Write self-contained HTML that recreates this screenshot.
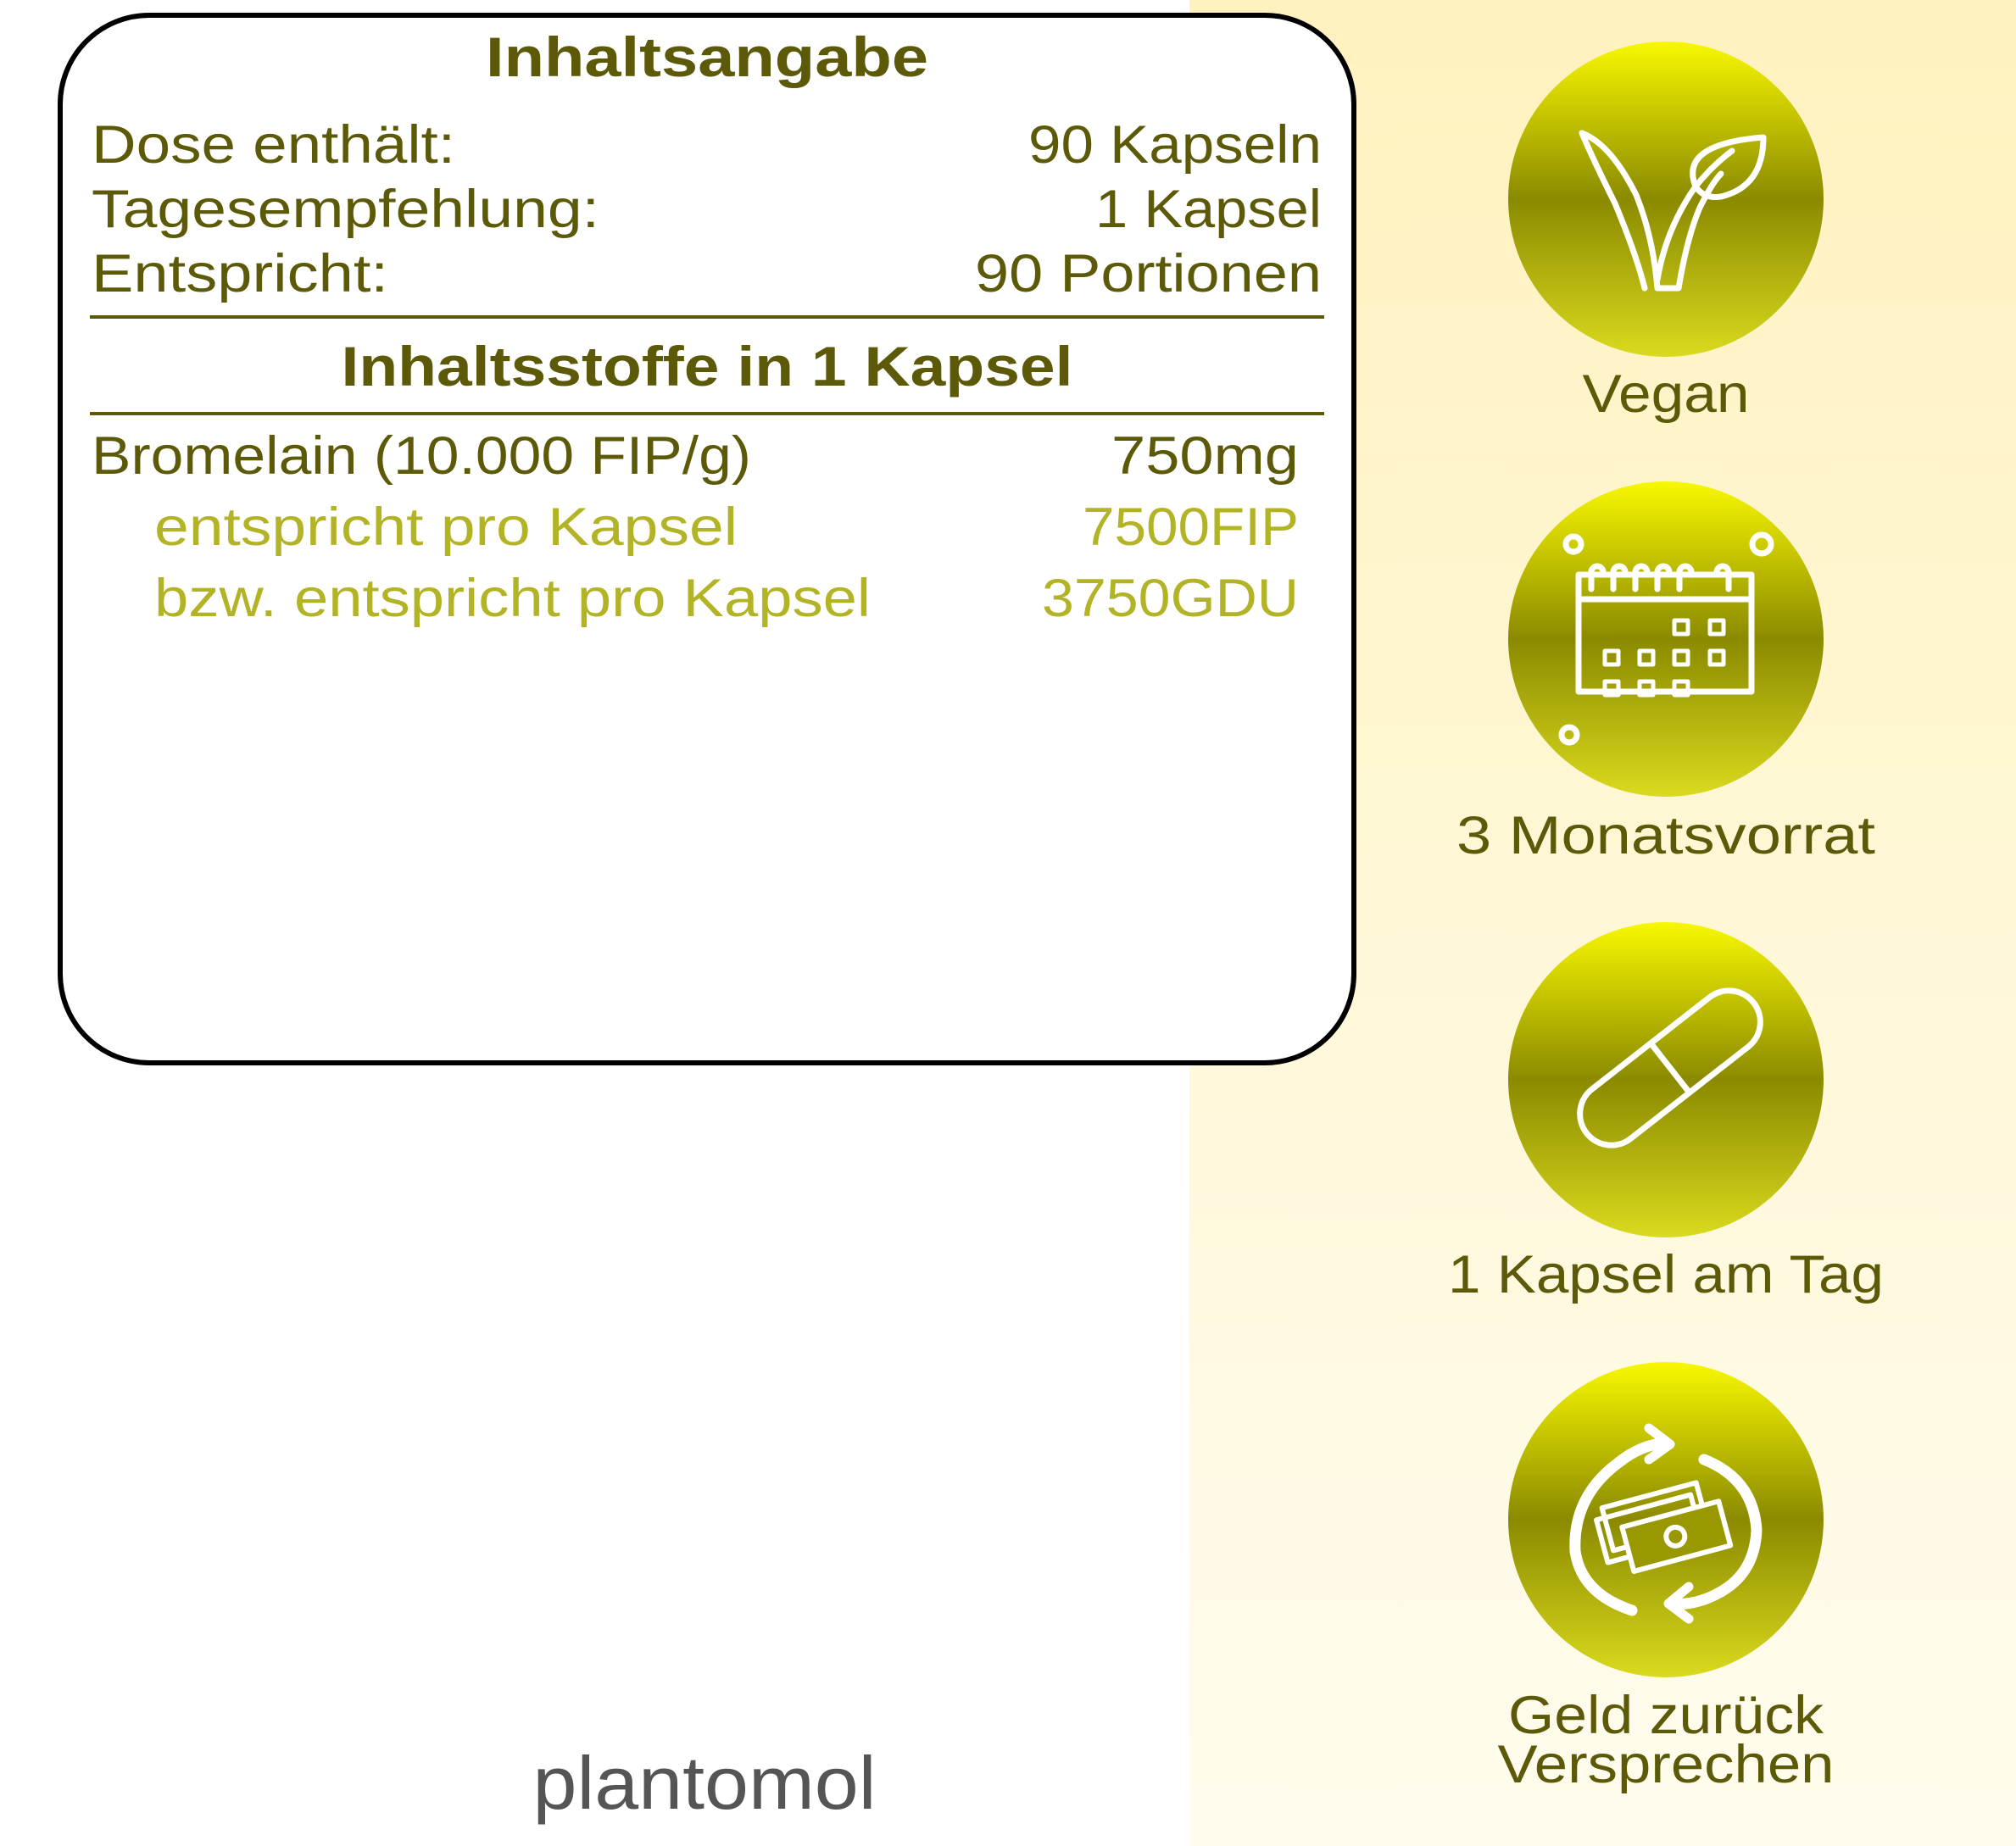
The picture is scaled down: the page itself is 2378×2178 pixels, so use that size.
<!DOCTYPE html>
<html><head><meta charset="utf-8"><style>
html,body{margin:0;padding:0;width:2378px;height:2178px;overflow:hidden;background:#fff}
svg{display:block}
text{font-family:"Liberation Sans",sans-serif}
</style></head><body>
<svg width="2378" height="2178" viewBox="0 0 2378 2178" xmlns="http://www.w3.org/2000/svg">
<defs>
<linearGradient id="bg" x1="0" y1="0" x2="0" y2="1">
<stop offset="0" stop-color="#fff2bf"/><stop offset="1" stop-color="#fffcee"/></linearGradient>
<linearGradient id="cg" x1="0" y1="0" x2="0" y2="1">
<stop offset="0" stop-color="#f8f800"/><stop offset="0.5" stop-color="#8b8a00"/><stop offset="1" stop-color="#dada1e"/></linearGradient>
</defs>
<rect x="1403" y="0" width="975" height="2178" fill="url(#bg)"/>
<rect x="71" y="18" width="1526" height="1236" rx="105" fill="#fff" stroke="#000" stroke-width="6"/>
<g fill="#5c5a08">
<text x="834" y="90" font-size="66" font-weight="bold" text-anchor="middle" textLength="522" lengthAdjust="spacingAndGlyphs">Inhaltsangabe</text>
<text x="108" y="192" font-size="63" textLength="429" lengthAdjust="spacingAndGlyphs">Dose enthält:</text>
<text x="1559" y="192" font-size="63" text-anchor="end" textLength="346" lengthAdjust="spacingAndGlyphs">90 Kapseln</text>
<text x="108" y="268" font-size="63" textLength="599" lengthAdjust="spacingAndGlyphs">Tagesempfehlung:</text>
<text x="1559" y="268" font-size="63" text-anchor="end" textLength="267" lengthAdjust="spacingAndGlyphs">1 Kapsel</text>
<text x="108" y="344" font-size="63" textLength="350" lengthAdjust="spacingAndGlyphs">Entspricht:</text>
<text x="1559" y="344" font-size="63" text-anchor="end" textLength="409" lengthAdjust="spacingAndGlyphs">90 Portionen</text>
<text x="834" y="455" font-size="66" font-weight="bold" text-anchor="middle" textLength="863" lengthAdjust="spacingAndGlyphs">Inhaltsstoffe in 1 Kapsel</text>
<text x="108" y="559" font-size="63" textLength="778" lengthAdjust="spacingAndGlyphs">Bromelain (10.000 FIP/g)</text>
<text x="1532" y="559" font-size="63" text-anchor="end" textLength="221" lengthAdjust="spacingAndGlyphs">750mg</text>
</g>
<rect x="106" y="372" width="1456" height="4" fill="#5c5a08"/>
<rect x="106" y="486" width="1456" height="4" fill="#5c5a08"/>
<g fill="#b3b326" font-size="63">
<text x="182" y="643" textLength="688" lengthAdjust="spacingAndGlyphs">entspricht pro Kapsel</text>
<text x="1532" y="643" text-anchor="end" textLength="255" lengthAdjust="spacingAndGlyphs">7500FIP</text>
<text x="182" y="727" textLength="845" lengthAdjust="spacingAndGlyphs">bzw. entspricht pro Kapsel</text>
<text x="1532" y="727" text-anchor="end" textLength="303" lengthAdjust="spacingAndGlyphs">3750GDU</text>
</g>
<text x="831" y="2134" font-size="88" fill="#555" text-anchor="middle" textLength="405" lengthAdjust="spacingAndGlyphs">plantomol</text>

<g>
<circle cx="1965" cy="235" r="186" fill="url(#cg)"/>
<circle cx="1965" cy="754" r="186" fill="url(#cg)"/>
<circle cx="1965" cy="1274" r="186" fill="url(#cg)"/>
<circle cx="1965" cy="1793" r="186" fill="url(#cg)"/>
</g>
<g fill="none" stroke="#fff" stroke-width="7" stroke-linecap="round" stroke-linejoin="round">
<path d="M1866 157 Q1900 170 1930 230 Q1950 280 1955 340 L1980 340 Q1990 280 2005 245 Q2020 215 2030 205"/>
<path d="M1866 157 Q1880 190 1905 240 Q1930 300 1940 340"/>
<path d="M1955 330 Q1965 270 2000 220"/>
<path d="M2000 220 Q1980 170 2080 162 Q2080 220 2030 232 Q2010 235 2000 220 Z"/>
<path d="M2000 220 Q2020 195 2043 178"/>
<rect x="1862" y="678" width="204" height="138"/>
<line x1="1862" y1="707" x2="2066" y2="707"/>
<path d="M1877 695 v-20 a7 7 0 0 1 14 0 M1903 695 v-20 a7 7 0 0 1 14 0 M1929 695 v-20 a7 7 0 0 1 14 0 M1955 695 v-20 a7 7 0 0 1 14 0 M1981 695 v-20 a7 7 0 0 1 14 0 M2039 695 v-20 a7 7 0 0 0 -14 0"/>
<circle cx="1856" cy="642" r="9"/><circle cx="2078" cy="642" r="11"/><circle cx="1851" cy="867" r="9"/>
<g stroke-width="5">
<rect x="1975" y="732" width="16" height="16"/><rect x="2017" y="732" width="16" height="16"/>
<rect x="1893" y="768" width="16" height="16"/><rect x="1934" y="768" width="16" height="16"/><rect x="1975" y="768" width="16" height="16"/><rect x="2017" y="768" width="16" height="16"/>
<rect x="1893" y="804" width="16" height="16"/><rect x="1934" y="804" width="16" height="16"/><rect x="1975" y="804" width="16" height="16"/>
</g>
<g transform="translate(1970 1260) rotate(-38)">
<rect x="-125" y="-37" width="250" height="74" rx="37"/>
<line x1="0" y1="-37" x2="0" y2="37"/>
</g>
<path d="M1910 1725 Q1855 1765 1858 1830 Q1865 1880 1925 1900" stroke-width="13"/>
<path d="M1910 1725 Q1935 1705 1965 1702" stroke-width="13"/>
<path d="M1945 1685 L1970 1704 L1945 1722" stroke-width="11"/>
<path d="M2010 1722 Q2068 1745 2072 1805 Q2070 1855 2030 1878" stroke-width="13"/>
<path d="M2030 1878 Q2000 1895 1972 1892" stroke-width="13"/>
<path d="M1992 1872 L1968 1892 L1992 1910" stroke-width="11"/>
<g stroke-width="6" transform="rotate(-15 1965 1790)">
<rect x="1895" y="1760" width="115" height="52"/>
<rect x="1885" y="1772" width="115" height="52"/>
<rect x="1912" y="1788" width="118" height="54" fill="#9a9800"/>
<circle cx="1970" cy="1815" r="11"/>
</g>
</g>
<g fill="#5c5a08" font-size="63" text-anchor="middle">
<text x="1965" y="486" textLength="197" lengthAdjust="spacingAndGlyphs">Vegan</text>
<text x="1965" y="1007" textLength="494" lengthAdjust="spacingAndGlyphs">3 Monatsvorrat</text>
<text x="1965" y="1525" textLength="514" lengthAdjust="spacingAndGlyphs">1 Kapsel am Tag</text>
<text x="1965" y="2045" textLength="372" lengthAdjust="spacingAndGlyphs">Geld zurück</text>
<text x="1965" y="2103" textLength="397" lengthAdjust="spacingAndGlyphs">Versprechen</text>
</g>
</svg>
</body></html>
